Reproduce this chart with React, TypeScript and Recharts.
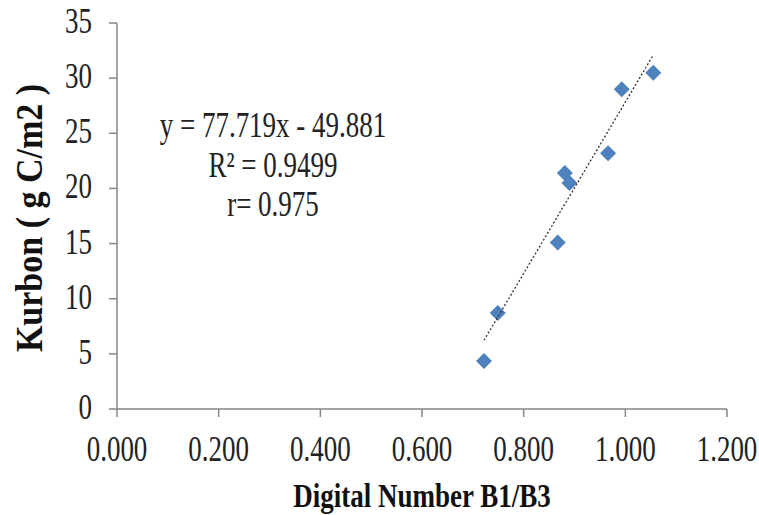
import { ScatterChart, Scatter, XAxis, YAxis, Customized } from "recharts";

// sample points (x = B1/B3 ratio, y = carbon g C/m2)
const ratioB1B3 = [0.722, 0.749, 0.867, 0.881, 0.89, 0.966, 0.993, 1.055];
const carbon = [4.35, 8.7, 15.1, 21.4, 20.5, 23.2, 29.0, 30.5];

// trendline ends, as drawn across the data range
const trendX = [0.722, 1.055];
const trendY = [6.23, 32.1];

const xTicks = [0, 0.2, 0.4, 0.6, 0.8, 1.0, 1.2];
const yTicks = [0, 5, 10, 15, 20, 25, 30, 35];

const equationLines = ["y = 77.719x - 49.881", "R² = 0.9499", "r= 0.975"];

const points = ratioB1B3.map((x, i) => ({ x, y: carbon[i] }));
const trend = trendX.map((x, i) => ({ x, y: trendY[i] }));

const FONT = "'Liberation Serif', 'Times New Roman', serif";
const AXIS = "#868686";

const XTick = ({ x, y, payload }: any) => (
  <text
    transform={`translate(${x},${y + 44}) scale(1,1.3)`}
    textAnchor="middle"
    fontFamily={FONT}
    fontSize={27}
    fill="#222"
  >
    {Number(payload.value).toFixed(3)}
  </text>
);

const YTick = ({ x, y, payload }: any) => (
  <text
    transform={`translate(${x - 17},${y + 10}) scale(1,1.3)`}
    textAnchor="end"
    fontFamily={FONT}
    fontSize={27}
    fill="#222"
  >
    {payload.value}
  </text>
);

const Diamond = ({ cx, cy }: any) => (
  <path
    d={`M${cx},${cy - 8}L${cx + 8},${cy}L${cx},${cy + 8}L${cx - 8},${cy}Z`}
    fill="#4F81BD"
  />
);

const Titles = () => (
  <g fontFamily={FONT} fill="#111">
    <text
      transform="translate(422,507) scale(1,1.25)"
      textAnchor="middle"
      fontSize={27}
      fontWeight="bold"
    >
      Digital Number B1/B3
    </text>
    <text
      transform="translate(42,218) rotate(-90) scale(1,1.1)"
      textAnchor="middle"
      fontSize={34}
      fontWeight="bold"
    >
      Kurbon ( g C/m2 )
    </text>
    {equationLines.map((t, i) => (
      <text
        key={t}
        transform={`translate(273,${137 + i * 39.5}) scale(1,1.3)`}
        textAnchor="middle"
        fontSize={27}
        fill="#222"
      >
        {t}
      </text>
    ))}
  </g>
);

export default function App() {
  return (
    <div style={{ position: "absolute", left: 0, top: 0, background: "#fff" }}>
      <ScatterChart
        width={759}
        height={515}
        margin={{ top: 23, right: 32, bottom: 46, left: 37 }}
      >
        <XAxis
          type="number"
          dataKey="x"
          domain={[0, 1.2]}
          ticks={xTicks}
          height={60}
          stroke={AXIS}
          strokeWidth={1.5}
          tickSize={8}
          tickMargin={0}
          tick={<XTick />}
          interval={0}
        />
        <YAxis
          type="number"
          dataKey="y"
          domain={[0, 35]}
          ticks={yTicks}
          width={80}
          stroke={AXIS}
          strokeWidth={1.5}
          tickSize={8}
          tickMargin={0}
          tick={<YTick />}
          interval={0}
        />
        <Scatter data={points} shape={<Diamond />} isAnimationActive={false} />
        <Scatter
          data={trend}
          line={{ stroke: "#333", strokeWidth: 1.3, strokeDasharray: "2 2" }}
          shape={() => <g />}
          isAnimationActive={false}
        />
        <Customized component={Titles} />
      </ScatterChart>
    </div>
  );
}
